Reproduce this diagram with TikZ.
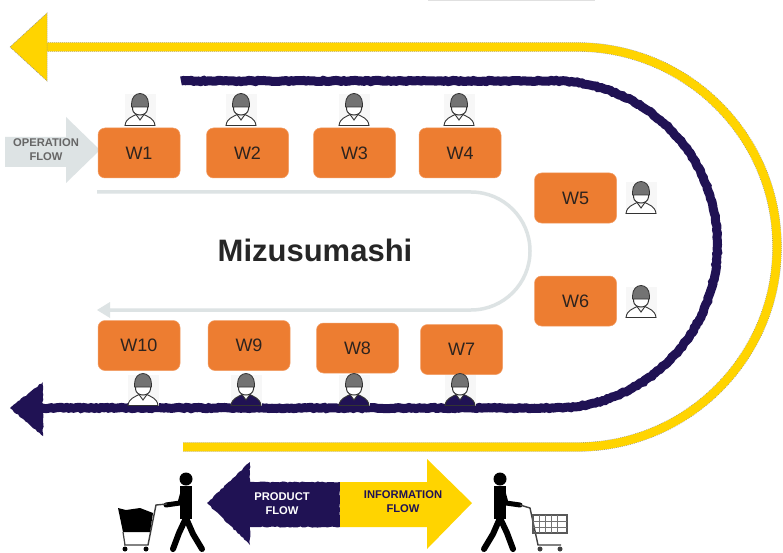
\documentclass[tikz,border=0pt]{standalone}
\usepackage{xcolor}
\usepackage{fontspec}
\setmainfont{Liberation Sans}
\usetikzlibrary{calc, decorations.pathmorphing}
\definecolor{FlowNavy}{RGB}{32, 18, 84}
\definecolor{FlowYellow}{RGB}{255, 212, 0}
\definecolor{BoxOrange}{RGB}{237, 125, 49}
\definecolor{PaleGrey}{RGB}{221, 227, 228}
\definecolor{TextDark}{RGB}{45, 35, 30}
\tikzset{
  x=1pt, y=-1pt,
  station/.style={rounded corners=7pt, fill=BoxOrange, draw=BoxOrange!75!white, line width=0.5pt,
        minimum width=82pt, minimum height=50pt, inner sep=0pt, text=TextDark, font=\fontsize{18}{20}\selectfont},
  flowlabel/.style={align=center, inner sep=0pt, font=\fontsize{11.2}{14}\selectfont\bfseries},
  rough/.style={decorate, decoration={random steps, segment length=2.5pt, amplitude=0.6pt}},
  yellowedge/.style={black!45, dash pattern=on 1pt off 1pt, line width=9.4pt},
  pics/worker/.style={code={
    \fill[black!3] (-15.5,-15.5) rectangle (15.5,15.5);
    \draw[black!80, line width=0.9pt, fill=#1] (-15,15.5) .. controls (-14,8) and (-8,7) .. (-4,4.5) -- (0,10) -- (4,4.5) .. controls (8,7) and (14,8) .. (15,15.5) -- cycle;
    \draw[black!80, line width=1pt, fill=white] (-7.5,-7) -- (-7.5,-1) .. controls (-7,7) and (7,7) .. (7.5,-1) -- (7.5,-7) -- cycle;
    \draw[black!80, line width=0.8pt, fill=black!55] (-8.5,-6) .. controls (-8.5,-20) and (8.5,-20) .. (8.5,-6) -- (8.5,-3) -- (-8.5,-3) -- cycle;
  }},
  pics/walker/.style={code={
    \fill (0,-25) circle (6.5);
    \draw[line width=12.5pt] (0,-18) -- (0,15);
    \draw[line width=5pt, line cap=round, line join=round] (#1*3,-12) -- (#1*6,-1) -- (#1*20,1);
    \draw[line width=6pt, line cap=round, line join=round] (0,14) -- (-#1*7,30) -- (-#1*16,45);
    \draw[line width=6pt, line cap=round, line join=round] (0,14) -- (#1*7,29) -- (#1*13,45);
  }},
}
\begin{document}
\begin{tikzpicture}
  \useasboundingbox (0,0) rectangle (783,553);
  \fill[white] (0,0) rectangle (783,553);
  \draw[black!12, line width=2pt] (428,0.5) -- (595,0.5);

  \coordinate (yellowstart) at (44,47);
  \coordinate (yellowend) at (183,447);
  \coordinate (navystart) at (181,81);
  \coordinate (navyend) at (40,408);

  % outer and inner loops
  \draw[yellowedge] (yellowstart) -- (577,47) arc[start angle=90, end angle=-90, radius=200pt] -- (yellowend);
  \draw[FlowYellow, line width=8.6pt] (yellowstart) -- (577,47) arc[start angle=90, end angle=-90, radius=200pt] -- (yellowend);
  \fill[FlowYellow, draw=black!45, dash pattern=on 1pt off 1pt, line width=0.5pt] (10,47) -- (47,13) -- (47,81) -- cycle;
  \draw[FlowNavy, line width=9pt, rough] (navystart) -- (554,81) arc[start angle=90, end angle=-90, radius=163.5pt] -- (navyend);
  \fill[FlowNavy, rough] (10,408) -- (43,382) -- (43,436) -- cycle;

  % mizusumashi route
  \draw[PaleGrey, line width=3.5pt] (97,192) -- (471,192) arc[start angle=90, end angle=-90, radius=59pt] -- (108,310);
  \fill[PaleGrey] (97,310) -- (110,302) -- (110,318) -- cycle;
  \node[inner sep=0pt, text=black!85, font=\fontsize{31}{34}\selectfont\bfseries] (mizu) at (315,250) {Mizusumashi};

  % operation flow
  \fill[PaleGrey] (5,137) -- (66,137) -- (66,117) -- (100,150) -- (66,183) -- (66,167) -- (5,167) -- cycle;
  \node[flowlabel, text=black!60] (opflow) at (46,150) {OPERATION\\FLOW};

  \node[station] (w1) at (139,153) {W1};
  \node[station] (w2) at (247.5,153) {W2};
  \node[station] (w3) at (354.5,153) {W3};
  \node[station] (w4) at (460,153) {W4};
  \node[station] (w5) at (575.5,198) {W5};
  \node[station] (w6) at (575.5,301) {W6};
  \node[station] (w7) at (461.5,349.5) {W7};
  \node[station] (w8) at (357.5,348) {W8};
  \node[station] (w9) at (249,345.5) {W9};
  \node[station] (w10) at (139,345.5) {W10};

  \pic at (140,110) {worker=white};
  \pic at (241,110) {worker=white};
  \pic at (354,110) {worker=white};
  \pic at (459,110) {worker=white};
  \pic at (641,198) {worker=white};
  \pic at (641,302) {worker=white};
  \pic at (143,390) {worker=white};
  \pic at (246,390) {worker=FlowNavy};
  \pic at (354,390) {worker=FlowNavy};
  \pic at (460,390) {worker=FlowNavy};

  % product and information flow
  \fill[FlowNavy, rough] (207,503) -- (250,462) -- (250,482) -- (340,482) -- (340,527) -- (250,527) -- (250,545) -- cycle;
  \fill[FlowYellow] (340,482) -- (427,482) -- (427,459) -- (472,503) -- (427,549) -- (427,527) -- (340,527) -- cycle;
  \node[flowlabel, text=white] (product) at (282,504) {PRODUCT\\FLOW};
  \node[flowlabel, text=FlowNavy] (information) at (403,502) {INFORMATION\\FLOW};

  % shoppers
  \pic[black] at (186,504) {walker=-1};
  \pic[black] at (500,504) {walker=1};
  \draw[black!75, line width=1.4pt] (167,504) -- (156,505) -- (148,545) -- (124,545);
  \fill[black] (118,508) -- (126,510) -- (140,508) -- (153,513) -- (150,532) -- (123,532) -- cycle;
  \draw[black!75, line width=1.2pt] (123,532) -- (125,545);
  \fill[black] (125,549) circle (2.5) (146,549) circle (2.5);
  \draw[black!75, line width=1.4pt] (520,505) -- (530,508) -- (538,545) -- (561,545);
  \draw[black!65, line width=1.4pt] (533,515) rectangle (567,533);
  \foreach \gx in {539,545,...,561} \draw[black!55, line width=0.8pt] (\gx,515) -- (\gx,533);
  \foreach \gy in {521,527} \draw[black!55, line width=0.8pt] (533,\gy) -- (567,\gy);
  \fill[black!75] (540,549) circle (2.5) (560,549) circle (2.5);
\end{tikzpicture}
\end{document}
